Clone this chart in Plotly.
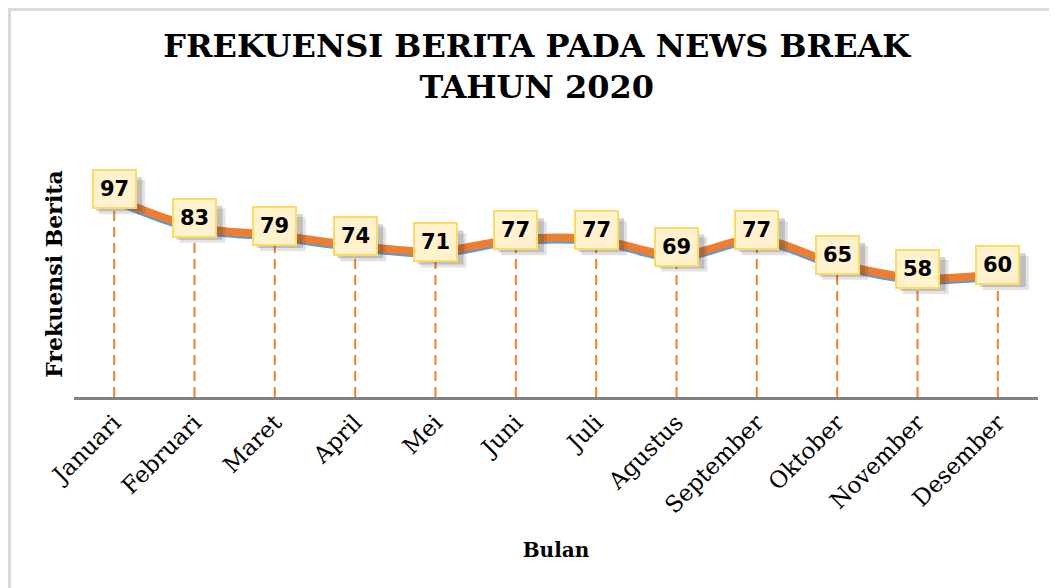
import plotly.graph_objects as go

months = ["Januari", "Februari", "Maret", "April", "Mei", "Juni", "Juli",
          "Agustus", "September", "Oktober", "November", "Desember"]
values = [97, 83, 79, 74, 71, 77, 77, 69, 77, 65, 58, 60]

title_text = "FREKUENSI BERITA PADA NEWS BREAK<br>TAHUN 2020"
x_title = "Bulan"
y_title = "Frekuensi Berita"

YMIN, YMAX = 0, 120
ORANGE = "#ED7D31"
BLUE = "#5B9BD5"

fig = go.Figure()

# drop lines (dashed) from axis to each point
dx, dy = [], []
for m, v in zip(months, values):
    dx += [m, m, None]
    dy += [YMIN, v, None]
fig.add_trace(go.Scatter(x=dx, y=dy, mode="lines",
                         line=dict(color=ORANGE, width=2, dash="10px,6px"),
                         hoverinfo="skip", showlegend=False))

# blue line slightly below (shadow-like), on shifted overlay axis
fig.add_trace(go.Scatter(x=months, y=values, mode="lines", yaxis="y2",
                         line=dict(color=BLUE, width=6, shape="spline", smoothing=1),
                         showlegend=False))
# orange main line (drawn above blue)
fig.add_trace(go.Scatter(x=months, y=values, mode="lines", yaxis="y3",
                         line=dict(color=ORANGE, width=8, shape="spline", smoothing=1),
                         showlegend=False))

LABEL_SHIFT = 9
annotations = []
shapes = [dict(type="rect", xref="paper", yref="paper", x0=-0.0669, x1=1.2, y0=-1, y1=1.575,
               line=dict(color="#D9D9D9", width=3), layer="below")]
for m, v in zip(months, values):
    for off, op in [(8, 0.14), (5, 0.22)]:
        shapes.append(dict(type="rect", xref="x", yref="y", xsizemode="pixel", ysizemode="pixel",
                           xanchor=m, yanchor=v,
                           x0=-23 + off, x1=23 + off,
                           y0=LABEL_SHIFT - 17 - off, y1=LABEL_SHIFT + 17 - off,
                           fillcolor=f"rgba(60,60,60,{op})", line=dict(width=0), layer="above"))
    annotations.append(dict(x=m, y=v, xref="x", yref="y", text=f"<b>{v}</b>", showarrow=False,
                            font=dict(family="DejaVu Sans", size=21, color="black"),
                            bgcolor="#FFF2CC", bordercolor="#FFD966", borderwidth=2,
                            borderpad=6, yshift=LABEL_SHIFT))

fig.update_layout(
    width=1049, height=580,
    paper_bgcolor="white", plot_bgcolor="white",
    margin=dict(l=66, r=19, t=143, b=191, autoexpand=False),
    title=dict(text=f"<b>{title_text}</b>", x=0.504, xanchor="center", y=0.916, yanchor="middle",
               xref="container", yref="container",
               font=dict(family="DejaVu Serif", size=32, color="black")),
    xaxis=dict(type="category", range=[-0.5, 11.5], showgrid=False, showline=True,
               linecolor="#808080", linewidth=3, ticks="", tickangle=-45, automargin=False,
               tickfont=dict(family="DejaVu Serif", size=23, color="black"),
               title=dict(text=f"<b>{x_title}</b>", standoff=26,
                          font=dict(family="DejaVu Serif", size=20, color="black"))),
    yaxis=dict(range=[YMIN, YMAX], showgrid=False, showticklabels=False, zeroline=False,
               showline=False, automargin=False,
               title=dict(text=f"<b>{y_title}</b>", standoff=4,
                          font=dict(family="DejaVu Serif", size=22, color="black"))),
    yaxis2=dict(range=[YMIN + 1.5, YMAX + 1.5], overlaying="y", visible=False),
    yaxis3=dict(range=[YMIN, YMAX], overlaying="y", visible=False),
    annotations=annotations,
    shapes=shapes,
)

fig.write_html("out.html")
